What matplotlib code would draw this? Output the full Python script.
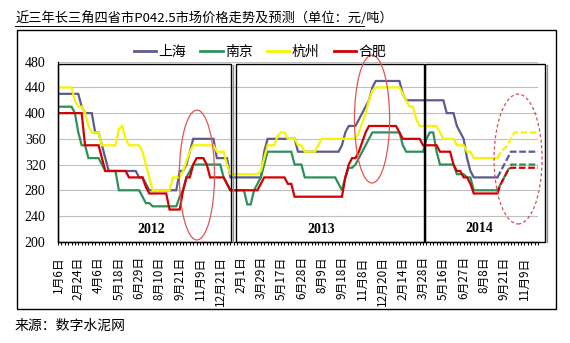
#!/usr/bin/env python3
import matplotlib

matplotlib.use("Agg")
import matplotlib.pyplot as plt
import numpy as np
from matplotlib.lines import Line2D
from matplotlib.patches import Ellipse, Rectangle

plt.rcParams["font.family"] = ["Noto Sans CJK SC", "DejaVu Sans"]

TITLE = "近三年长三角四省市P042.5市场价格走势及预测（单位：元/吨）"
SOURCE = "来源：数字水泥网"

TICK_LABELS = [
    "1月6日", "2月24日", "4月6日", "5月18日", "6月29日", "8月10日", "9月21日",
    "11月9日", "12月21日", "2月1日", "3月29日", "5月17日", "6月28日", "8月9日",
    "9月18日", "11月8日", "12月20日", "2月14日", "3月28日", "5月16日", "6月27日",
    "8月8日", "9月21日", "11月9日",
]
LABEL_EVERY = 6
FORECAST_FROM = 130

# weekly prices, stored as runs: level (yuan/t) and number of weeks at that level
SH_LEVELS = [430, 410, 400, 370, 350, 330, 310, 300, 290, 280, 310, 320, 340, 360,
             330, 300, 340, 360, 340, 350, 370, 380, 390, 400, 410, 420, 440, 450,
             430, 420, 400, 380, 370, 360, 330, 310, 300, 310, 320, 330, 340]
SH_WEEKS = [7, 1, 3, 2, 1, 1, 9, 2, 1, 9, 2, 1, 1, 7,
            4, 10, 1, 9, 13, 1, 1, 3, 1, 1, 1, 1, 1, 8,
            1, 12, 3, 1, 1, 1, 1, 1, 8, 1, 1, 1, 9]

NJ_LEVELS = [410, 400, 370, 350, 330, 320, 310, 280, 270, 260, 255, 270, 280, 300,
             310, 320, 300, 290, 280, 258, 280, 290, 300, 320, 340, 320, 300, 290,
             280, 300, 315, 320, 330, 340, 350, 360, 370, 350, 340, 360, 370, 340,
             320, 305, 300, 280, 290, 300, 310, 320]
NJ_WEEKS = [5, 1, 1, 2, 4, 1, 4, 7, 1, 2, 8, 1, 1, 1,
            1, 9, 1, 1, 5, 2, 1, 1, 1, 1, 8, 3, 10, 1,
            1, 1, 2, 1, 1, 1, 1, 1, 9, 1, 6, 1, 2, 1,
            5, 3, 2, 8, 1, 1, 1, 9]

HZ_LEVELS = [440, 420, 410, 400, 380, 370, 350, 375, 380, 360, 350, 340, 320, 300,
             280, 300, 310, 325, 340, 350, 340, 320, 305, 310, 330, 350, 365, 370,
             360, 350, 340, 350, 360, 370, 385, 400, 420, 435, 440, 430, 420, 410,
             390, 380, 370, 360, 350, 340, 330, 330, 340, 345, 350, 360, 370]
HZ_WEEKS = [5, 1, 2, 1, 1, 3, 5, 1, 1, 1, 4, 1, 1, 1,
            6, 3, 1, 1, 1, 7, 3, 1, 9, 1, 1, 3, 1, 2,
            3, 2, 4, 1, 11, 1, 1, 1, 1, 1, 8, 1, 1, 2,
            1, 6, 1, 4, 3, 2, 7, 1, 1, 1, 1, 1, 8]

HF_LEVELS = [400, 350, 330, 310, 300, 285, 275, 250, 280, 300, 320, 330, 320, 300,
             290, 280, 290, 300, 290, 270, 300, 320, 330, 340, 355, 370, 380, 370,
             360, 350, 340, 320, 310, 300, 290, 275, 290, 300, 310, 315]
HF_WEEKS = [8, 5, 1, 7, 5, 1, 6, 4, 1, 2, 1, 3, 1, 5,
            1, 9, 1, 7, 2, 15, 1, 1, 2, 1, 1, 1, 9, 1,
            6, 5, 4, 1, 2, 2, 1, 8, 1, 1, 1, 9]

CITIES = ["上海", "南京", "杭州", "合肥"]
COLORS = {"上海": "#5C5C8E", "南京": "#2F8F5B", "杭州": "#F5F500", "合肥": "#D20000"}


def expand(levels, weeks):
    return np.repeat(np.asarray(levels, dtype=float), weeks)


series = {
    "上海": expand(SH_LEVELS, SH_WEEKS),
    "南京": expand(NJ_LEVELS, NJ_WEEKS),
    "杭州": expand(HZ_LEVELS, HZ_WEEKS),
    "合肥": expand(HF_LEVELS, HF_WEEKS),
}

W, H = 570, 343
fig = plt.figure(figsize=(W / 100, H / 100), dpi=100)
fig.patch.set_facecolor("white")

ax = fig.add_axes([58 / W, 1 - 241.7 / H, 480 / W, 180 / H])
ax.set_xlim(0, 142)
ax.set_ylim(200, 480)
ax.set_yticks(range(200, 481, 40))
ax.yaxis.grid(True, color="#c0c0c0", linewidth=0.8)
ax.set_axisbelow(True)
for side in ["top", "right"]:
    ax.spines[side].set_visible(False)
for side in ["left", "bottom"]:
    ax.spines[side].set_linewidth(0.9)

n = len(series["上海"])
x = np.arange(n)
for city in CITIES:
    y = series[city]
    ax.plot(x[:FORECAST_FROM + 1], y[:FORECAST_FROM + 1], color=COLORS[city],
            linewidth=1.6, label=city, solid_joinstyle="miter")
    ax.plot(x[FORECAST_FROM:], y[FORECAST_FROM:], color=COLORS[city],
            linewidth=1.6, linestyle=(0, (3, 1.2)))

ax.set_xticks(x[::LABEL_EVERY][:len(TICK_LABELS)])
ax.set_xticklabels(TICK_LABELS, rotation=90, fontsize=8.5)
ax.set_xticks(x, minor=True)
ax.tick_params(axis="x", which="both", direction="out", length=2.5, width=0.7, pad=8)
ax.tick_params(axis="y", length=0, pad=9)
for lab in ax.get_yticklabels():
    lab.set_fontfamily("Liberation Serif")
    lab.set_fontsize(10)

# year boxes, each with a thin grey shadow on its right side
for x0, x1 in [(0, 51.3), (52.7, 108.2), (108.7, 144.2)]:
    ax.add_patch(Rectangle((x0, 200), x1 - x0, 476.4 - 200, fill=False,
                           edgecolor="black", linewidth=1.0, clip_on=False, zorder=5))
    ax.plot([x1 + 0.45, x1 + 0.45], [199, 475.5], color="#909090", linewidth=1.0,
            clip_on=False, zorder=4)
for xt, yt, year in [(27.5, 219, "2012"), (78, 219, "2013"), (124.5, 221, "2014")]:
    ax.text(xt, yt, year, ha="center", va="center", fontsize=10,
            fontweight="bold", family="Liberation Serif")

# highlight ellipses
ax.add_patch(Ellipse((41.1, 303.7), 10.4, 202, fill=False, edgecolor="#e05555",
                     linewidth=0.9, clip_on=False, zorder=6))
ax.add_patch(Ellipse((92.9, 390.8), 10.4, 199, fill=False, edgecolor="#e05555",
                     linewidth=0.9, clip_on=False, zorder=6))
ax.add_patch(Ellipse((136.1, 328.6), 14.2, 202, fill=False, edgecolor="#d05050",
                     linewidth=0.9, linestyle=(0, (2.5, 2)), clip_on=False, zorder=6))

handles = [Line2D([], [], color=COLORS[c], linewidth=2) for c in CITIES]
fig.legend(handles, CITIES, loc="center", bbox_to_anchor=(260 / W, 1 - 52 / H),
           ncol=4, frameon=False, fontsize=10, handlelength=1.6,
           handletextpad=0.2, columnspacing=1.0)

fig.text(15 / W, 1 - 18 / H, TITLE, va="center", ha="left", fontsize=9.5)
fig.add_artist(Line2D([15 / W, 364 / W], [1 - 26 / H] * 2, color="black",
                      linewidth=0.7, transform=fig.transFigure))
fig.add_artist(Rectangle((17 / W, 1 - 309 / H), 539 / W, 279 / H, fill=False,
                         edgecolor="black", linewidth=1.0, transform=fig.transFigure))
fig.text(15 / W, 1 - 326 / H, SOURCE, va="center", ha="left", fontsize=10)

fig.savefig("out.png", dpi=100)
